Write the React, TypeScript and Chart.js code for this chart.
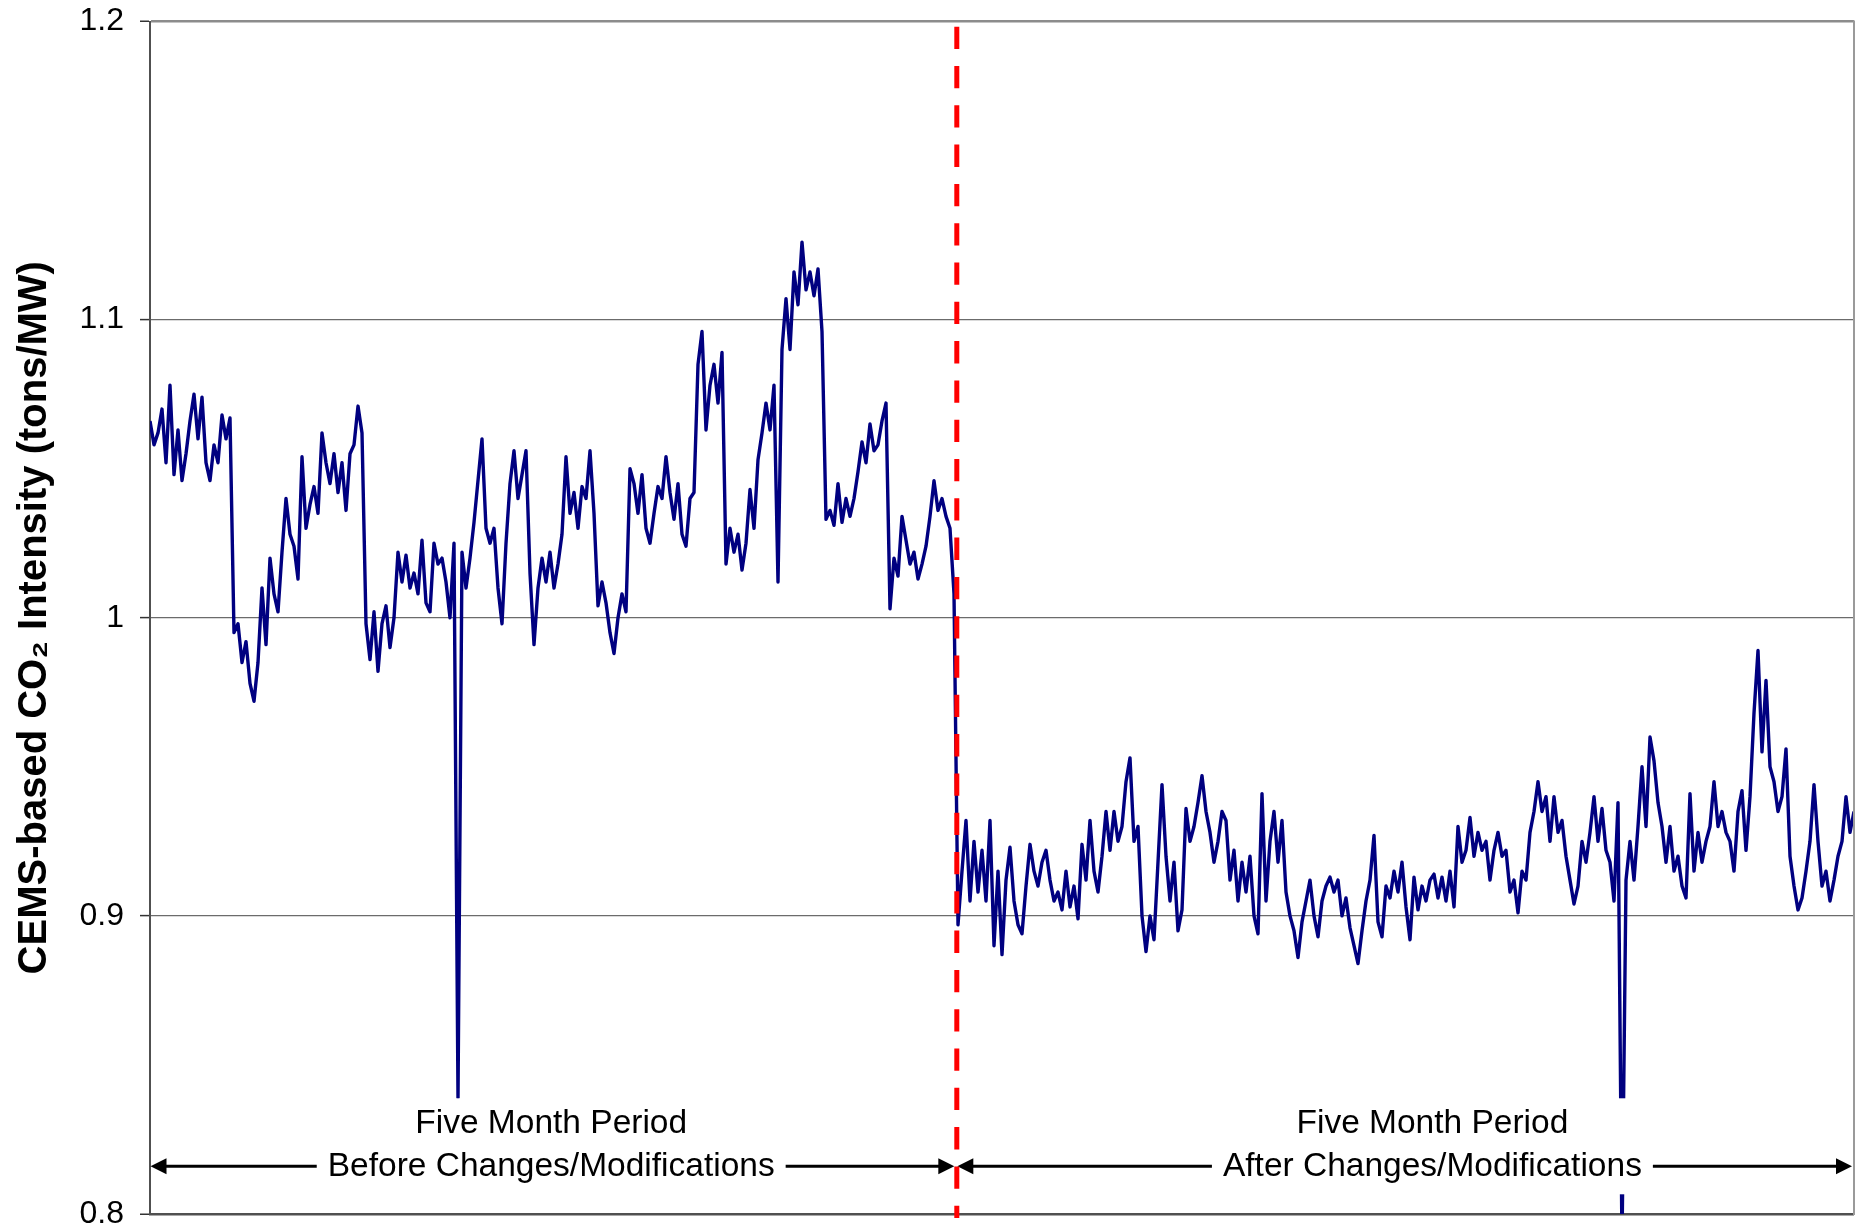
import React, { useEffect, useRef } from 'react';
import { Chart, registerables } from 'chart.js';

Chart.register(...registerables);

const FONT = '"Liberation Sans", Arial, Helvetica, sans-serif';

// CEMS-based CO2 intensity (tons/MW), sampled along the ten-month record
const beforeValues: number[] = [
  1.066, 1.058, 1.062, 1.070, 1.052, 1.078, 1.048, 1.063, 1.046, 1.055,
  1.066, 1.075, 1.060, 1.074, 1.052, 1.046, 1.058, 1.052, 1.068, 1.060,
  1.067, 0.995, 0.998, 0.985, 0.992, 0.978, 0.972, 0.985, 1.010, 0.991,
  1.020, 1.008, 1.002, 1.022, 1.040, 1.028, 1.024, 1.013, 1.054, 1.030,
  1.038, 1.044, 1.035, 1.062, 1.052, 1.045, 1.055, 1.042, 1.052, 1.036,
  1.055, 1.058, 1.071, 1.062, 0.998, 0.986, 1.002, 0.982, 0.998, 1.004,
  0.990, 1.000, 1.022, 1.012, 1.021, 1.010, 1.015, 1.008, 1.026, 1.005,
  1.002, 1.025, 1.018, 1.020, 1.012, 1.000, 1.025, 0.839, 1.022, 1.010,
  1.020, 1.032, 1.046, 1.060, 1.030, 1.025, 1.030, 1.010, 0.998, 1.025,
  1.045, 1.056, 1.040, 1.048, 1.056, 1.015, 0.991, 1.010, 1.020, 1.012,
  1.022, 1.010, 1.018, 1.028, 1.054, 1.035, 1.042, 1.030, 1.044, 1.040,
  1.056, 1.035, 1.004, 1.012, 1.005, 0.995, 0.988, 1.000, 1.008, 1.002,
  1.050, 1.045, 1.035, 1.048, 1.030, 1.025, 1.035, 1.044, 1.040, 1.054,
  1.042, 1.033, 1.045, 1.028, 1.024, 1.040, 1.042, 1.085, 1.096, 1.063,
  1.078, 1.085, 1.072, 1.089, 1.018, 1.030, 1.022, 1.028, 1.016, 1.025,
  1.043, 1.030, 1.053, 1.062, 1.072, 1.063, 1.078, 1.012, 1.090, 1.107,
  1.090, 1.116, 1.105, 1.126, 1.110, 1.116, 1.108, 1.117, 1.096, 1.033,
  1.036, 1.031, 1.045, 1.032, 1.040, 1.034, 1.040, 1.049, 1.059, 1.052,
  1.065, 1.056, 1.058, 1.066, 1.072, 1.003, 1.020, 1.014, 1.034, 1.026,
  1.018, 1.022, 1.013, 1.018, 1.024, 1.034, 1.046, 1.036, 1.040, 1.034,
  1.030, 1.008,
];

const afterValues: number[] = [
  0.897, 0.915, 0.932, 0.905, 0.925, 0.908, 0.922, 0.905, 0.932, 0.890,
  0.915, 0.887, 0.912, 0.923, 0.905, 0.897, 0.894, 0.910, 0.924, 0.915,
  0.910, 0.918, 0.922, 0.912, 0.905, 0.908, 0.902, 0.915, 0.903, 0.910,
  0.899, 0.924, 0.912, 0.932, 0.915, 0.908, 0.920, 0.935, 0.922, 0.935,
  0.925, 0.930, 0.945, 0.953, 0.925, 0.930, 0.900, 0.888, 0.900, 0.892,
  0.918, 0.944, 0.920, 0.905, 0.918, 0.895, 0.902, 0.936, 0.925, 0.930,
  0.938, 0.947, 0.935, 0.928, 0.918, 0.925, 0.935, 0.932, 0.912, 0.922,
  0.905, 0.918, 0.908, 0.920, 0.900, 0.894, 0.941, 0.905, 0.925, 0.935,
  0.918, 0.932, 0.908, 0.900, 0.895, 0.886, 0.898, 0.905, 0.912, 0.900,
  0.893, 0.905, 0.910, 0.913, 0.908, 0.912, 0.900, 0.906, 0.896, 0.890,
  0.884, 0.895, 0.905, 0.912, 0.927, 0.898, 0.893, 0.910, 0.906, 0.915,
  0.908, 0.918, 0.903, 0.892, 0.913, 0.902, 0.910, 0.905, 0.912, 0.914,
  0.906, 0.913, 0.905, 0.915, 0.903, 0.930, 0.918, 0.922, 0.933, 0.920,
  0.928, 0.922, 0.925, 0.912, 0.922, 0.928, 0.920, 0.922, 0.908, 0.912,
  0.901, 0.915, 0.912, 0.928, 0.935, 0.945, 0.935, 0.940, 0.925, 0.940,
  0.928, 0.932, 0.920, 0.912, 0.904, 0.910, 0.925, 0.918, 0.928, 0.940,
  0.925, 0.936, 0.922, 0.918, 0.905, 0.938, 0.790, 0.912, 0.925, 0.912,
  0.930, 0.950, 0.930, 0.960, 0.952, 0.938, 0.930, 0.918, 0.930, 0.915,
  0.920, 0.910, 0.906, 0.941, 0.915, 0.928, 0.918, 0.925, 0.930, 0.945,
  0.930, 0.935, 0.928, 0.925, 0.915, 0.935, 0.942, 0.922, 0.940, 0.968,
  0.989, 0.955, 0.979, 0.950, 0.945, 0.935, 0.940, 0.956, 0.920, 0.910,
  0.902, 0.906, 0.915, 0.925, 0.944, 0.925, 0.910, 0.915, 0.905, 0.912,
  0.920, 0.925, 0.940, 0.928, 0.935,
];

const intensity: number[] = [...beforeValues, ...afterValues];
const changeIndex = 201.7;
const yTicks: number[] = [0.8, 0.9, 1.0, 1.1, 1.2];
const yTitle = 'CEMS-based CO\u2082 Intensity (tons/MW)';
const beforeText: string[] = ['Five Month Period', 'Before Changes/Modifications'];
const afterText: string[] = ['Five Month Period', 'After Changes/Modifications'];
const beforeTextCenter = 100.3;
const afterTextCenter = 320.6;
const arrowLevel = 0.816;

function arrowHead(ctx: CanvasRenderingContext2D, tipX: number, y: number, dir: number) {
  ctx.beginPath();
  ctx.moveTo(tipX, y);
  ctx.lineTo(tipX - dir * 16, y - 8);
  ctx.lineTo(tipX - dir * 16, y + 8);
  ctx.closePath();
  ctx.fill();
}

const overlayPlugin = {
  id: 'overlay',
  afterDatasetsDraw(chart: any) {
    const { ctx, chartArea: a } = chart;
    const xs = chart.scales.x;
    const ys = chart.scales.y;
    const redX = xs.getPixelForValue(changeIndex);
    const arrowY = ys.getPixelForValue(arrowLevel);
    ctx.save();
    // right frame border
    ctx.strokeStyle = '#9a9a9a';
    ctx.lineWidth = 2;
    ctx.beginPath();
    ctx.moveTo(a.right, a.top - 1);
    ctx.lineTo(a.right, a.bottom + 1);
    ctx.stroke();

    ctx.font = `33.5px ${FONT}`;
    const group = (lines: string[], cx: number, leftEnd: number, rightEnd: number) => {
      const w = Math.max(...lines.map((l) => ctx.measureText(l).width));
      const bl = cx - w / 2 - 11;
      const br = cx + w / 2 + 11;
      ctx.fillStyle = '#ffffff';
      ctx.fillRect(bl, arrowY - 68, br - bl, 96);
      ctx.fillStyle = '#000000';
      ctx.textAlign = 'center';
      ctx.textBaseline = 'alphabetic';
      ctx.fillText(lines[0], cx, arrowY - 33);
      ctx.fillText(lines[1], cx, arrowY + 9.5);
      ctx.strokeStyle = '#000000';
      ctx.lineWidth = 3;
      ctx.beginPath();
      ctx.moveTo(leftEnd + 10, arrowY);
      ctx.lineTo(bl, arrowY);
      ctx.moveTo(br, arrowY);
      ctx.lineTo(rightEnd - 10, arrowY);
      ctx.stroke();
      arrowHead(ctx, leftEnd, arrowY, -1);
      arrowHead(ctx, rightEnd, arrowY, 1);
    };
    group(beforeText, xs.getPixelForValue(beforeTextCenter), a.left + 0.5, redX - 2.5);
    group(afterText, xs.getPixelForValue(afterTextCenter), redX + 0.5, a.right - 2);

    // change marker
    ctx.strokeStyle = '#ff0000';
    ctx.lineWidth = 5;
    ctx.setLineDash([22.3, 17]);
    ctx.beginPath();
    ctx.moveTo(redX, a.top + 5.2);
    ctx.lineTo(redX, a.bottom + 4);
    ctx.stroke();
    ctx.restore();
  },
};

export default function App() {
  const ref = useRef<HTMLCanvasElement | null>(null);
  useEffect(() => {
    if (!ref.current) return;
    const chart = new Chart(ref.current, {
      type: 'line',
      data: {
        datasets: [
          {
            label: 'CO2 Intensity',
            data: intensity.map((y, i) => ({ x: i, y })),
            borderColor: '#000080',
            borderWidth: 3.4,
            pointRadius: 0,
            tension: 0,
            fill: false,
            borderJoinStyle: 'round',
          },
        ],
      },
      options: {
        animation: false,
        responsive: false,
        devicePixelRatio: 1,
        events: [],
        layout: { padding: { top: 21.5, left: 0, right: 14, bottom: 17 } },
        plugins: { legend: { display: false }, tooltip: { enabled: false } },
        scales: {
          x: {
            type: 'linear',
            display: false,
            min: 0,
            max: intensity.length - 1,
          },
          y: {
            type: 'linear',
            min: 0.8,
            max: 1.2,
            afterBuildTicks: (scale: any) => {
              scale.ticks = yTicks.map((value) => ({ value }));
            },
            afterFit: (scale: any) => {
              scale.width = 150;
              scale.paddingTop = 0;
              scale.paddingBottom = 0;
            },
            ticks: {
              color: '#000000',
              font: { family: FONT, size: 32 },
              padding: 16,
              callback: (v: any) => String(v),
            },
            grid: {
              color: (c: any) => (c.tick && c.tick.value === 1.2 ? '#8c8c8c' : c.tick && c.tick.value === 0.8 ? '#505050' : '#6b6b6b'),
              lineWidth: (c: any) => (c.tick && (c.tick.value === 1.2 || c.tick.value === 0.8) ? 2.5 : 1.2),
              tickLength: 10,
              tickColor: '#333333',
              tickWidth: 1.5,
            },
            border: { color: '#505050', width: 2 },
            title: {
              display: true,
              text: yTitle,
              color: '#000000',
              font: { family: FONT, size: 40, weight: 'bold' },
              padding: { top: 11, bottom: 0 },
            },
          },
        },
      },
      plugins: [overlayPlugin],
    } as any);
    return () => chart.destroy();
  }, []);
  return (
    <div style={{ position: 'absolute', left: 0, top: 0, width: 1868, height: 1231, background: '#ffffff' }}>
      <canvas ref={ref} width={1868} height={1231} style={{ display: 'block', width: 1868, height: 1231 }} />
    </div>
  );
}
